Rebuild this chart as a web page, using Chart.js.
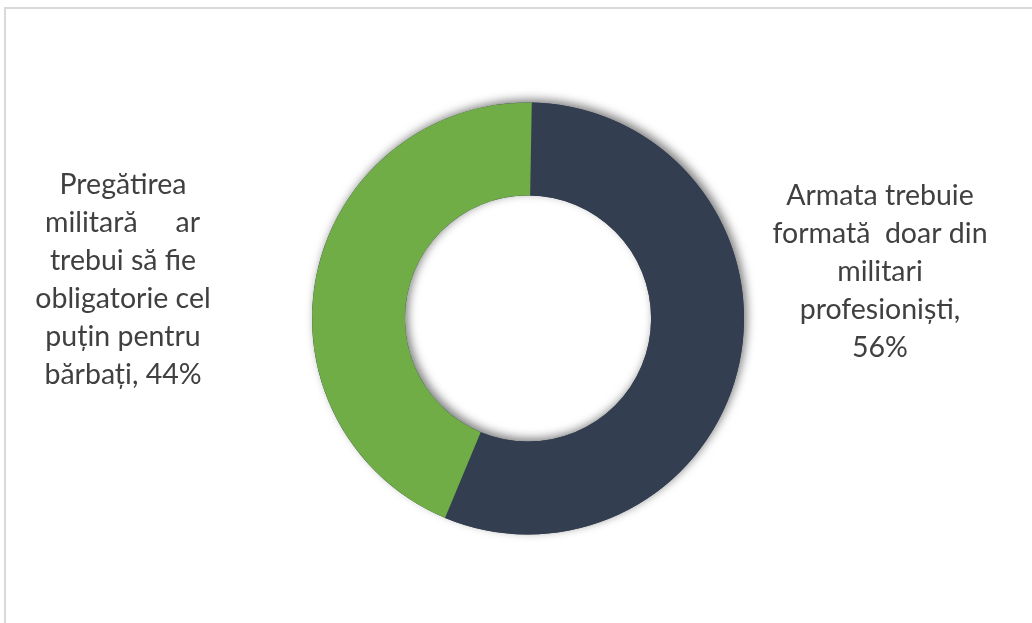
<!DOCTYPE html>
<html>
<head>
<meta charset="utf-8">
<script src="https://cdn.jsdelivr.net/npm/chart.js@4"></script>
<style>
  html, body { margin: 0; padding: 0; background: #ffffff; overflow: hidden; }
  #frame { position: absolute; left: 4px; top: 7px; width: 1100px; height: 700px; border: 2px solid #d9d9d9; box-sizing: border-box; }
  #c { position: absolute; left: 0; top: 0; }
</style>
</head>
<body>
<div id="frame"></div>
<canvas id="c" width="1032" height="623"></canvas>
<script>
const categories = [
  'Armata trebuie formată doar din militari profesioniști',
  'Pregătirea militară ar trebui să fie obligatorie cel puțin pentru bărbați'
];
const values = [56, 44];
const colors = ['#333F50', '#70AD47'];
const rightLabelLines = ['Armata trebuie', 'formată  doar din', 'militari', 'profesioniști,', values[0] + '%'];
const leftLabelLines = ['Pregătirea', ['militară', 'ar'], 'trebui să fie', 'obligatorie cel', 'puțin pentru', 'bărbați, ' + values[1] + '%'];

const shadowPlugin = {
  id: 'ringShadow',
  beforeDatasetsDraw(chart) {
    const arc = chart.getDatasetMeta(0).data[0];
    if (!arc) return;
    const ctx = chart.ctx;
    ctx.save();
    ctx.shadowColor = 'rgba(0,0,0,0.5)';
    ctx.shadowBlur = 10;
    ctx.shadowOffsetX = 3;
    ctx.shadowOffsetY = -3;
    ctx.beginPath();
    ctx.arc(arc.x, arc.y, arc.outerRadius, 0, Math.PI * 2, false);
    ctx.arc(arc.x, arc.y, arc.innerRadius, 0, Math.PI * 2, true);
    ctx.closePath();
    ctx.fillStyle = colors[0];
    ctx.fill();
    ctx.restore();
  }
};

const labelPlugin = {
  id: 'sideLabels',
  afterDatasetsDraw(chart) {
    const ctx = chart.ctx;
    ctx.save();
    ctx.font = '28.5px Lato';
    ctx.fillStyle = '#404040';
    ctx.textBaseline = 'alphabetic';
    const lh = 38;
    ctx.textAlign = 'center';
    rightLabelLines.forEach((ln, i) => ctx.fillText(ln, 880, 205 + lh * i));
    leftLabelLines.forEach((ln, i) => {
      const y = 194 + lh * i;
      if (Array.isArray(ln)) {
        ctx.textAlign = 'left';
        ctx.fillText(ln[0], 45, y);
        ctx.textAlign = 'right';
        ctx.fillText(ln[1], 200, y);
      } else {
        ctx.textAlign = 'center';
        ctx.fillText(ln, 123, y);
      }
    });
    ctx.restore();
  }
};

new Chart(document.getElementById('c'), {
  type: 'doughnut',
  data: {
    labels: categories,
    datasets: [{
      data: values,
      backgroundColor: colors,
      borderWidth: 0
    }]
  },
  options: {
    responsive: false,
    devicePixelRatio: 1,
    animation: false,
    cutout: '57%',
    rotation: 1,
    layout: { padding: { left: 312, right: 288, top: 102, bottom: 88 } },
    plugins: {
      legend: { display: false },
      tooltip: { enabled: false }
    }
  },
  plugins: [shadowPlugin, labelPlugin]
});
</script>
</body>
</html>
